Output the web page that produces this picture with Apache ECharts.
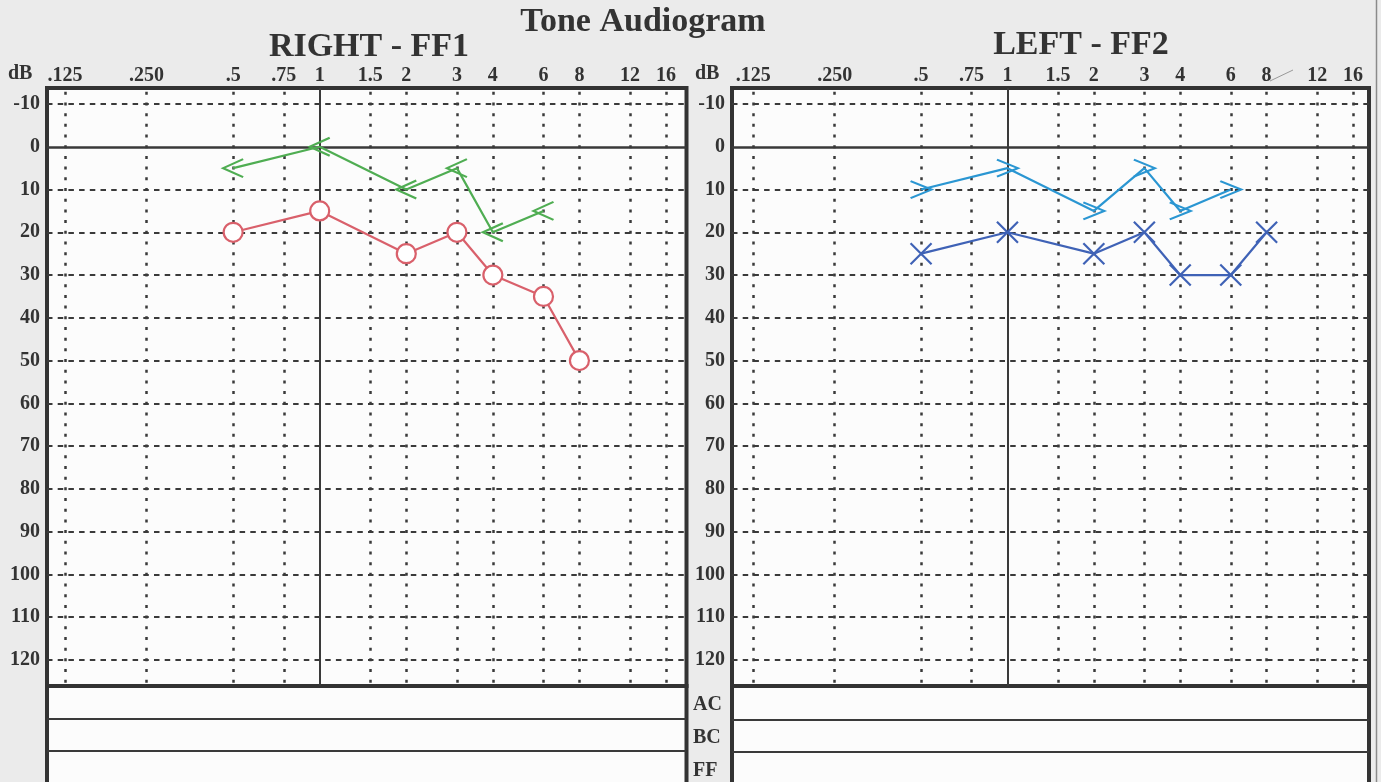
<!DOCTYPE html>
<html>
<head>
<meta charset="utf-8">
<script src="https://cdn.jsdelivr.net/npm/echarts@6/dist/echarts.min.js"></script>
<style>
html,body{margin:0;padding:0;background:#ebebeb;}
#c{width:1381px;height:782px;}
</style>
</head>
<body>
<div id="c"></div>
<script>
// ---- data ----
const freqLabels = ['.125', '.250', '.5', '.75', '1', '1.5', '2', '3', '4', '6', '8', '12', '16'];
const freqValues = [0.125, 0.25, 0.5, 0.75, 1, 1.5, 2, 3, 4, 6, 8, 12, 16];
const dbTicks = [-10, 0, 10, 20, 30, 40, 50, 60, 70, 80, 90, 100, 110, 120];

// RIGHT - FF1
const rightFFFreq = [0.5, 1, 2, 3, 4, 6];
const rightFF = [5, 0, 10, 5, 20, 15];
const rightACFreq = [0.5, 1, 2, 3, 4, 6, 8];
const rightAC = [20, 15, 25, 20, 30, 35, 50];

// LEFT - FF2
const leftFFFreq = [0.5, 1, 2, 3, 4, 6];
const leftFF = [10, 5, 15, 5, 15, 10];
const leftACFreq = [0.5, 1, 2, 3, 4, 6, 8];
const leftAC = [25, 20, 25, 20, 30, 30, 20];

const tableRows = ['AC', 'BC', 'FF'];

// ---- styling ----
const INK = '#333';
const FONT = '"Liberation Serif", "Times New Roman", serif';
const GREEN = '#4fad52';
const RED = '#d9606b';
const LBLUE = '#2a96d2';
const DBLUE = '#3f62b6';

function pairs(xs, ys) { return xs.map((x, i) => [x, ys[i]]); }

function gridLineSeries(idx) {
  const lbl = { show: true, color: INK, fontFamily: FONT, fontWeight: 'bold', fontSize: 20, formatter: '{b}' };
  const vData = freqValues.map((f, k) => ({
    xAxis: f, name: freqLabels[k],
    lineStyle: f === 1 ? { type: 'solid', width: 2, color: '#3a3a3a' }
                       : { type: [3, 7.69], dashOffset: 6.9, width: 2.5, color: '#3a3a3a' },
    label: Object.assign({}, lbl, { position: 'start', distance: 2 })
  }));
  const hData = dbTicks.map(v => ({
    yAxis: v, name: String(v),
    lineStyle: v === 0 ? { type: 'solid', width: 2.5, color: '#3a3a3a' }
                       : { type: [5.5, 5.2], width: 2, color: '#3a3a3a' },
    label: Object.assign({}, lbl, { position: 'start', distance: 7 })
  }));
  return {
    type: 'line', xAxisIndex: idx, yAxisIndex: idx, z: 1, silent: true,
    data: [[1, 0]], showSymbol: false, lineStyle: { opacity: 0 },
    markLine: { silent: true, z: 1, animation: false, symbol: ['none', 'none'], data: vData.concat(hData) }
  };
}

function dataSeries(idx, xs, ys, color, symbol, size, fill) {
  return {
    type: 'line', xAxisIndex: idx, yAxisIndex: idx, z: 3, silent: true,
    data: pairs(xs, ys), symbol: symbol, symbolSize: size, showSymbol: true, clip: false,
    lineStyle: { color: color, width: 2.2 },
    itemStyle: { color: fill, borderColor: color, borderWidth: 2.2 },
    emphasis: { disabled: true }
  };
}

const LT = '#fcfcfc';
const grids = [
  { left: 47, top: 88, width: 639.5, height: 598, show: true, backgroundColor: LT, borderColor: INK, borderWidth: 4 },
  { left: 732, top: 88, width: 637, height: 598, show: true, backgroundColor: LT, borderColor: INK, borderWidth: 4 }
];
const xRanges = [[0.11264, 18.853], [0.10969, 18.19]];

const xAxes = xRanges.map((r, i) => ({
  type: 'log', logBase: 2, gridIndex: i, min: r[0], max: r[1],
  axisLine: { show: false }, axisTick: { show: false }, axisLabel: { show: false }, splitLine: { show: false }
}));
const yAxes = [0, 1].map(i => ({
  type: 'value', gridIndex: i, inverse: true, min: -13.74, max: 126.08,
  axisLine: { show: false }, axisTick: { show: false }, axisLabel: { show: false }, splitLine: { show: false }
}));

const TR = 'rgba(0,0,0,0)';
const series = [
  gridLineSeries(0),
  gridLineSeries(1),
  dataSeries(0, rightFFFreq, rightFF, GREEN, 'path://M20,0L0,9L20,18', [20, 18], TR),
  dataSeries(0, rightACFreq, rightAC, RED, 'circle', 19, '#fff'),
  dataSeries(1, leftFFFreq, leftFF, LBLUE, 'path://M0,0L20,8L0,16', [21, 17], TR),
  dataSeries(1, leftACFreq, leftAC, DBLUE, 'path://M0,0L18,18M18,0L0,18', 21, TR)
];

function txt(x, y, text, size, align) {
  return { type: 'text', z: 10, silent: true,
    style: { x: x, y: y, text: text, fill: INK, font: 'bold ' + size + 'px ' + FONT,
             textAlign: align || 'center', textVerticalAlign: 'middle' } };
}
function hline(x1, x2, y, w) {
  return { type: 'line', silent: true, shape: { x1: x1, y1: y, x2: x2, y2: y }, style: { stroke: '#3a3a3a', lineWidth: w } };
}

const graphics = [
  // tables under the plots
  { type: 'rect', silent: true, shape: { x: 47, y: 686, width: 639.5, height: 110 }, style: { fill: LT, stroke: INK, lineWidth: 4 } },
  { type: 'rect', silent: true, shape: { x: 732, y: 686, width: 637, height: 110 }, style: { fill: LT, stroke: INK, lineWidth: 4 } },
  hline(47, 686, 719, 2), hline(47, 686, 751, 2),
  hline(732, 1369, 720, 2), hline(732, 1369, 752, 2),
  { type: 'line', silent: true, shape: { x1: 1376.5, y1: 0, x2: 1376.5, y2: 782 }, style: { stroke: '#8a8a8a', lineWidth: 1.5 } },
  { type: 'line', silent: true, shape: { x1: 1270, y1: 81, x2: 1293, y2: 70 }, style: { stroke: '#999', lineWidth: 1 } },
  // titles
  txt(643, 22, 'Tone Audiogram', 34),
  txt(369, 47, 'RIGHT - FF1', 34),
  txt(1081, 45, 'LEFT - FF2', 34),
  txt(8, 74, 'dB', 20, 'left'),
  txt(695, 74, 'dB', 20, 'left'),
  txt(693, 705, tableRows[0], 20, 'left'),
  txt(693, 738, tableRows[1], 20, 'left'),
  txt(693, 771, tableRows[2], 20, 'left')
];

const chart = echarts.init(document.getElementById('c'), null, { renderer: 'canvas' });
chart.setOption({
  backgroundColor: '#ebebeb',
  animation: false,
  grid: grids,
  xAxis: xAxes,
  yAxis: yAxes,
  series: series,
  graphic: graphics
});
</script>
</body>
</html>
